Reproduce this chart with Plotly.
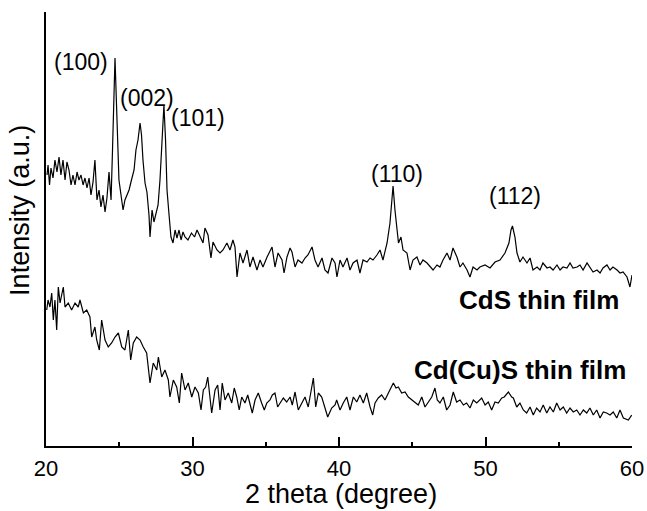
import plotly.graph_objects as go

# ---- data (2 theta in degrees, intensity in a.u.) ----
cds_two_theta = [20.07,20.14,20.24,20.34,20.48,20.61,20.75,20.89,21.02,21.16,21.30,21.43,21.57,21.71,21.84,21.98,22.12,22.25,22.39,22.53,22.66,22.80,22.94,23.07,23.21,23.34,23.48,23.62,23.75,23.89,24.03,24.16,24.30,24.44,24.54,24.64,24.71,24.78,24.88,24.98,25.12,25.26,25.39,25.53,25.67,25.80,26.01,26.14,26.28,26.42,26.52,26.62,26.76,26.89,27.03,27.10,27.24,27.37,27.51,27.65,27.78,27.92,28.05,28.16,28.26,28.40,28.53,28.67,28.81,28.94,29.08,29.22,29.35,
                 29.49,29.69,29.93,30.14,30.31,30.51,30.72,30.85,31.06,31.26,31.40,31.67,31.88,32.08,32.35,32.56,32.76,32.90,33.04,33.24,33.45,33.72,33.92,34.13,34.40,34.61,34.81,35.09,35.29,35.43,35.63,35.84,36.11,36.25,36.45,36.66,36.79,37.00,37.20,37.47,37.68,37.88,38.16,38.36,38.57,38.84,39.04,39.25,39.52,
                 39.73,39.86,40.07,40.27,40.55,40.75,40.96,41.23,41.43,41.64,41.91,42.12,42.32,42.59,42.80,43.00,43.28,43.48,43.62,43.69,43.82,43.96,44.06,44.23,44.37,44.64,44.85,45.05,45.32,45.53,45.73,46.01,46.21,46.42,46.69,46.89,47.10,47.37,47.58,47.78,48.05,48.26,48.46,48.74,48.94,49.15,49.42,
                 49.62,49.97,50.31,50.65,50.99,51.33,51.60,51.74,51.84,52.01,52.15,52.35,52.56,52.83,53.04,53.24,53.52,53.72,53.92,54.20,54.40,54.61,54.88,55.09,55.29,55.56,55.77,55.97,56.25,56.45,56.66,56.93,57.13,57.34,57.61,57.82,58.02,58.29,58.50,58.70,58.98,59.18,59.39,59.66,59.86,60.00]
cds_intensity = [271,281,261,278,268,286,274,289,271,286,266,284,276,261,271,261,274,266,271,261,268,258,268,251,264,286,246,256,239,251,234,248,274,246,296,351,388,356,296,266,251,236,246,251,256,264,276,296,306,323,311,286,263,254,231,209,236,224,233,241,266,311,341,306,256,231,209,203,216,208,216,206,214,
                 209,206,213,209,216,209,203,218,211,188,204,196,193,196,203,196,206,199,169,193,183,196,179,189,176,186,179,189,196,199,179,193,186,173,189,198,194,179,186,183,188,191,199,186,179,188,176,173,188,
                 183,169,186,179,188,176,183,186,173,186,184,188,186,191,196,186,203,223,243,260,236,213,203,209,196,193,176,186,189,181,186,183,179,176,181,179,186,193,186,198,189,179,183,176,169,179,176,
                 179,181,178,184,186,193,203,216,220,209,193,184,189,183,188,176,179,176,183,178,179,176,181,176,179,178,183,178,179,181,176,183,179,174,176,173,178,181,176,179,176,173,174,169,159,171]

cdcus_two_theta = [20.05,20.14,20.27,20.39,20.50,20.61,20.73,20.84,20.96,21.07,21.18,21.30,21.52,21.75,21.98,22.20,22.32,22.55,22.78,23.00,23.12,23.34,23.46,23.64,23.80,24.03,24.25,24.48,24.71,24.94,25.17,25.39,25.62,25.78,25.96,26.19,26.42,26.64,26.87,27.10,27.32,27.56,27.67,27.90,28.12,28.35,28.46,28.69,28.92,29.10,29.26,29.49,29.71,
                   29.95,30.17,30.40,30.58,30.74,30.90,31.04,31.19,31.31,31.54,31.72,31.88,32.03,32.22,32.44,32.68,32.85,33.02,33.19,33.36,33.58,33.77,33.92,34.08,34.27,34.49,34.72,34.90,35.07,35.29,35.45,35.63,35.81,35.97,36.20,36.43,36.66,36.81,37.00,37.22,37.45,37.68,37.90,38.09,38.25,38.41,38.59,38.82,39.00,39.23,39.50,39.73,
                   39.84,40.07,40.29,40.53,40.75,40.98,41.21,41.43,41.66,41.89,42.12,42.30,42.46,42.68,42.91,43.14,43.37,43.55,43.71,43.89,44.05,44.28,44.51,44.73,44.96,45.19,45.41,45.65,45.87,46.10,46.33,46.55,46.71,46.89,47.12,47.35,47.58,47.80,48.03,48.26,48.49,48.71,48.94,49.17,49.40,
                   49.74,49.97,50.19,50.42,50.65,50.87,51.11,51.28,51.56,51.79,51.90,52.13,52.35,52.58,52.81,53.04,53.26,53.49,53.72,53.94,54.18,54.40,54.63,54.86,55.09,55.31,55.54,55.77,55.99,56.23,56.45,56.68,56.91,57.13,57.36,57.59,57.82,58.04,58.27,58.50,58.72,58.96,59.18,59.41,59.75,59.98]
cdcus_intensity = [136,146,139,153,126,146,116,159,143,153,159,139,143,136,143,139,146,133,136,129,109,119,106,96,126,106,99,103,109,113,99,96,116,86,103,109,106,99,93,63,83,76,89,69,76,66,49,66,59,43,73,56,63,
                   49,59,53,36,56,59,69,49,33,56,61,36,63,46,53,43,58,49,36,49,43,51,43,33,46,53,43,36,43,46,51,53,39,43,48,44,49,41,54,36,43,49,39,53,68,39,53,49,39,29,38,41,
                   46,36,43,49,36,49,44,51,43,53,39,31,43,48,51,46,53,59,63,58,59,53,54,49,46,44,41,49,39,44,49,58,46,43,49,36,41,54,44,46,41,43,38,46,43,
                   48,41,44,36,44,43,48,49,54,49,48,39,43,36,33,39,31,38,34,41,33,39,34,43,36,39,33,38,34,36,31,36,33,38,31,36,28,34,33,31,34,28,36,28,26,31]

peak_labels = ["(100)", "(002)", "(101)", "(110)", "(112)"]
peak_label_x = [22.42, 26.89, 30.38, 43.96, 52.01]
peak_label_y = [384, 348, 328, 272, 250]

series_names = ["CdS thin film", "Cd(Cu)S thin film"]
x_ticks = [20, 30, 40, 50, 60]

FONT = "Liberation Sans, Arial, Helvetica, sans-serif"

fig = go.Figure()
fig.add_trace(go.Scatter(x=cds_two_theta, y=cds_intensity, mode="lines",
                         line=dict(color="black", width=1.2), name=series_names[0]))
fig.add_trace(go.Scatter(x=cdcus_two_theta, y=cdcus_intensity, mode="lines",
                         line=dict(color="black", width=1.2), name=series_names[1]))

annotations = []
for t, ax, ay in zip(peak_labels, peak_label_x, peak_label_y):
    annotations.append(dict(x=ax, y=ay, xref="x", yref="y", text=t, showarrow=False,
                            xanchor="center", yanchor="middle",
                            font=dict(family=FONT, size=23, color="black")))
annotations.append(dict(x=53.65, y=146, xref="x", yref="y", text="<b>%s</b>" % series_names[0],
                        showarrow=False, xanchor="center", yanchor="middle",
                        font=dict(family=FONT, size=26, color="black")))
annotations.append(dict(x=52.35, y=76, xref="x", yref="y", text="<b>%s</b>" % series_names[1],
                        showarrow=False, xanchor="center", yanchor="middle",
                        font=dict(family=FONT, size=26, color="black")))
annotations.append(dict(x=0.504, y=-0.11, xref="paper", yref="paper", text="2 theta (degree)",
                        showarrow=False, xanchor="center", yanchor="middle",
                        font=dict(family=FONT, size=27, color="black")))
annotations.append(dict(x=-0.0444, y=0.544, xref="paper", yref="paper", text="Intensity (a.u.)",
                        showarrow=False, xanchor="center", yanchor="middle", textangle=-90,
                        font=dict(family=FONT, size=27, color="black")))

fig.update_layout(
    width=647, height=511,
    margin=dict(l=46, r=15, t=12, b=65),
    paper_bgcolor="white", plot_bgcolor="white",
    showlegend=False,
    annotations=annotations,
    font=dict(family=FONT, color="black"),
    xaxis=dict(range=[20, 60], tickvals=x_ticks, ticktext=[str(v) for v in x_ticks],
               ticks="inside", ticklen=9, tickwidth=2, tickcolor="black",
               minor=dict(dtick=5, ticks="inside", ticklen=4, tickwidth=1.5, tickcolor="black"),
               showline=True, linecolor="black", linewidth=2, mirror=False,
               showgrid=False, zeroline=False, automargin=False,
               ticklabelstandoff=2, ticklabeloverflow="allow",
               tickfont=dict(family=FONT, size=22, color="black")),
    yaxis=dict(range=[0, 434], showticklabels=False, ticks="",
               showline=True, linecolor="black", linewidth=2, mirror=False,
               showgrid=False, zeroline=False, automargin=False),
)

# remove the browser's default 8px page margin so the figure fills the window
fig.write_html("out.html",
               config={"displayModeBar": False},
               post_script="document.body.style.margin='0';document.body.style.overflow='hidden';")
